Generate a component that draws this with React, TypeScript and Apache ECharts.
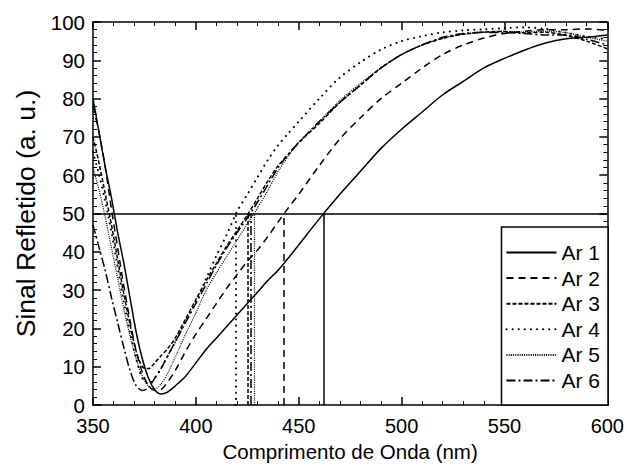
import { useEffect, useRef } from "react";
import * as echarts from "echarts";

// ---------- data ----------
const wavelengths = [
  350, 353, 356, 359, 362, 365, 368, 371, 374, 377, 380, 383, 386,
  390, 395, 400, 405, 410, 415, 420, 425, 430, 435, 440, 445, 450,
  460, 470, 480, 490, 500, 510, 520, 530, 540, 550, 560, 570, 580, 590, 600,
];

const ar1 = [
  80, 71, 62, 54, 45, 37, 28, 19, 12, 7, 4, 2.9, 3.3,
  5, 7.5, 11, 14.5, 17.5, 20.5, 23.5, 26.5, 29.5, 32.5, 35.2, 38.4, 41.8,
  48.6, 55, 61, 67, 72, 76.5, 81, 84.5, 88, 90.5, 92.7, 94.5, 95.6, 96, 96.6,
];
const ar2 = [
  78, 71, 62, 51, 41, 31, 22, 14, 8.5, 5, 3.8, 4, 5.8,
  9, 14, 18.5, 22.5, 26.5, 30.5, 34, 37.5, 40.5, 44, 47.8, 51.5, 55,
  62.5, 69.5, 75, 80, 84, 88, 91.5, 94, 95.8, 97, 97.6, 98, 98, 98.2, 97.8,
];
const ar3 = [
  70, 63, 55, 47, 38, 29, 21, 14, 10, 9.5, 11, 12.8, 14.5,
  17.5, 22.5, 27.5, 32.5, 37, 41.5, 45.5, 49.6, 54, 58.5, 62.5, 65.5, 68.5,
  73.5, 79, 83.5, 88, 91.5, 94, 95.7, 96.8, 97.4, 97.5, 97.2, 97.3, 96.5, 95, 93,
];
const ar4 = [
  66, 60, 53, 45, 36, 27, 19, 12, 7, 5.5, 7, 9.5, 12.5,
  16.5, 22, 27, 33, 39, 44.5, 50.5, 55, 59.5, 64, 67.8, 71, 74,
  80, 85.5, 89.5, 92.8, 95, 96.3, 97.3, 97.8, 98.1, 98.4, 98.6, 98.2, 97.2, 96.2, 95.5,
];
const ar5 = [
  62, 56, 49, 41, 33, 25, 18, 12, 7.5, 4.8, 4.2, 5.5, 8,
  12.5, 18.5, 24, 30, 34.5, 38.8, 43, 47.3, 51.5, 56, 61, 65, 68.5,
  74, 79.5, 84, 88, 91.5, 94, 95.8, 96.8, 97.3, 97.6, 97.4, 97.6, 97.2, 96, 95,
];
const ar6 = [
  47, 41, 35, 28, 21.5, 15, 9, 5, 3.8, 4.5, 7, 9.5, 12.5,
  16.5, 21.5, 26.5, 31.5, 36.5, 41, 45, 48.8, 53, 57.5, 62, 65.5, 68.5,
  74, 79, 83.5, 88, 91.5, 94, 96, 97, 97.3, 97.2, 97, 96.6, 96.6, 95.5, 94,
];

const seriesNames = ["Ar 1", "Ar 2", "Ar 3", "Ar 4", "Ar 5", "Ar 6"];
const seriesValues = [ar1, ar2, ar3, ar4, ar5, ar6];
// wavelength at which each curve reaches half of the signal
const halfWavelengths = [462, 442.7, 425.4, 419.4, 428.3, 426.5];
const halfLevel = 50;

// ---------- styles ----------
const FONT = "'Liberation Sans', Arial, Helvetica, sans-serif";
const lineStyles: any[] = [
  { type: "solid", width: 1.5 },
  { type: [7, 5], width: 1.5 },
  { type: [4, 2], width: 1.5 },
  { type: [0.1, 6], width: 2, cap: "round" },
  { type: [1, 1.2], width: 1.2 },
  { type: [9, 3, 2, 3], width: 1.5 },
];

const axisBase = {
  type: "value",
  axisLine: { show: true, onZero: false, lineStyle: { color: "#000", width: 1.5 } },
  axisTick: { show: true, inside: true, length: 8, lineStyle: { color: "#000", width: 1.5 } },
  minorTick: { show: true, splitNumber: 5, length: 4, lineStyle: { color: "#000", width: 1 } },
  splitLine: { show: false },
  minorSplitLine: { show: false },
};

export default function App() {
  const ref = useRef<HTMLDivElement>(null);
  useEffect(() => {
    document.body.style.margin = "0";
    const chart = echarts.init(ref.current!, undefined, { renderer: "svg" });
    const option: any = {
      animation: false,
      backgroundColor: "#fff",
      textStyle: { fontFamily: FONT, color: "#000" },
      grid: { left: 93, right: 19, top: 22, bottom: 67, containLabel: false },
      xAxis: [
        {
          ...axisBase,
          position: "bottom",
          min: 350,
          max: 600,
          interval: 50,
          name: "Comprimento de Onda (nm)",
          nameLocation: "middle",
          nameGap: 30,
          nameTextStyle: { fontSize: 20.5, color: "#000", fontFamily: FONT },
          axisLabel: { fontSize: 20, color: "#000", margin: 11, fontFamily: FONT },
        },
        {
          ...axisBase,
          position: "top",
          min: 350,
          max: 600,
          interval: 50,
          axisLabel: { show: false },
        },
      ],
      yAxis: [
        {
          ...axisBase,
          position: "left",
          min: 0,
          max: 100,
          interval: 10,
          name: "Sinal Refletido (a. u.)",
          nameLocation: "middle",
          nameGap: 50,
          nameTextStyle: { fontSize: 26.5, color: "#000", fontFamily: FONT },
          axisLabel: { fontSize: 20.5, color: "#000", margin: 8, fontFamily: FONT },
        },
        {
          ...axisBase,
          position: "right",
          min: 0,
          max: 100,
          interval: 10,
          axisLabel: { show: false },
        },
      ],
      legend: {
        right: 19,
        bottom: 67,
        orient: "vertical",
        align: "left",
        itemWidth: 50,
        itemHeight: 14,
        itemGap: 4.6,
        padding: [15, 8, 14, 4],
        borderColor: "#000",
        borderWidth: 1.5,
        borderRadius: 0,
        backgroundColor: "#fff",
        itemStyle: { opacity: 0 },
        textStyle: { fontSize: 21, color: "#000", fontFamily: FONT },
        data: seriesNames,
      },
      series: seriesNames.map((name, i) => {
        const ls = { color: "#000", ...lineStyles[i] };
        const mlData: any[] = [
          [{ coord: [halfWavelengths[i], 0] }, { coord: [halfWavelengths[i], halfLevel] }],
        ];
        if (i === 0) {
          mlData.push({ yAxis: halfLevel, lineStyle: { color: "#000", width: 1.5, type: "solid" } });
        }
        return {
          name,
          type: "line",
          xAxisIndex: 0,
          yAxisIndex: 0,
          data: wavelengths.map((w, j) => [w, seriesValues[i][j]]),
          symbol: "none",
          smooth: 0.3,
          lineStyle: ls,
          itemStyle: { color: "#000" },
          emphasis: { disabled: true },
          markLine: {
            silent: true,
            symbol: "none",
            label: { show: false },
            lineStyle: ls,
            emphasis: { disabled: true },
            data: mlData,
          },
        };
      }),
    };
    chart.setOption(option);
    return () => chart.dispose();
  }, []);
  return (
    <div
      ref={ref}
      style={{ position: "fixed", left: 0, top: 0, width: 627, height: 472 }}
    />
  );
}
